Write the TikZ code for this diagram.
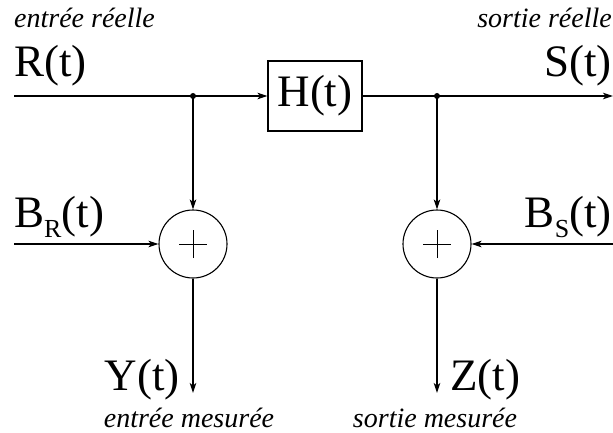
\documentclass[tikz,border=0pt]{standalone}
\usepackage{fontspec}
\setmainfont{Liberation Serif}
\usetikzlibrary{arrows.meta}
\tikzset{
  sig/.style={line width=1.1pt, -{Stealth[length=10pt,width=6.5pt,inset=2.5pt]}},
  wire/.style={line width=1.1pt},
  big/.style={inner sep=0pt, font=\fontsize{45}{45}\selectfont},
  captxt/.style={inner sep=0pt, font=\fontsize{28}{28}\selectfont\itshape},
  sumnode/.style={circle, draw, line width=1.1pt, minimum size=68pt, inner sep=0pt},
  dotnode/.style={circle, fill, inner sep=0pt, minimum size=6pt},
}
\newcommand{\subR}[1]{\raisebox{-10pt}{\fontsize{26}{26}\selectfont #1}}
\begin{document}
\begin{tikzpicture}[x=1pt,y=-1pt]
\useasboundingbox (0,0) rectangle (613,433);
% labels
\node[captxt, anchor=base west] (l1) at (14,28) {entrée réelle};
\node[big, anchor=base west] (R) at (14,77) {R(t)};
\node[captxt, anchor=base east] (l2) at (612,28) {sortie réelle};
\node[big, anchor=base east] (S) at (612,77) {S(t)};
\node[big, anchor=base west] (BR) at (14,227) {B\subR{R}(t)};
\node[big, anchor=base east] (BS) at (612,227) {B\subR{S}(t)};
\node[big, anchor=base east] (Y) at (180,390) {Y(t)};
\node[big, anchor=base west] (Z) at (450,390) {Z(t)};
\node[captxt, anchor=base] (l3) at (189,427) {entrée mesurée};
\node[captxt, anchor=base] (l4) at (435,427) {sortie mesurée};
% blocks
\node[draw, line width=1.1pt, minimum width=94pt, minimum height=70pt, inner sep=0pt, font=\fontsize{45}{45}\selectfont] (H) at (315,96) {H(t)};
\node[sumnode] (c1) at (193,244) {};
\node[sumnode] (c2) at (437,244) {};
\draw[line width=0.7pt] ([xshift=-14pt]c1.center) -- ([xshift=14pt]c1.center)
  ([yshift=-14pt]c1.center) -- ([yshift=14pt]c1.center);
\draw[line width=0.7pt] ([xshift=-14pt]c2.center) -- ([xshift=14pt]c2.center)
  ([yshift=-14pt]c2.center) -- ([yshift=14pt]c2.center);
\node[dotnode] (d1) at (193,96) {};
\node[dotnode] (d2) at (437,96) {};
\coordinate (in) at (14,96);
\coordinate (out) at (613,96);
\coordinate (bin1) at (14,244);
\coordinate (bin2) at (613,244);
\coordinate (yo) at (193,393);
\coordinate (zo) at (437,393);
% connectors
\draw[wire] (in) -- (d1.center);
\draw[sig] (d1.center) -- (H.west);
\draw[wire] (H.east) -- (d2.center);
\draw[sig] (d2.center) -- (out);
\draw[sig] (d1.center) -- (c1.north);
\draw[sig] (d2.center) -- (c2.north);
\draw[sig] (bin1) -- (c1.west);
\draw[sig] (bin2) -- (c2.east);
\draw[sig] (c1.south) -- (yo);
\draw[sig] (c2.south) -- (zo);
\end{tikzpicture}
\end{document}
